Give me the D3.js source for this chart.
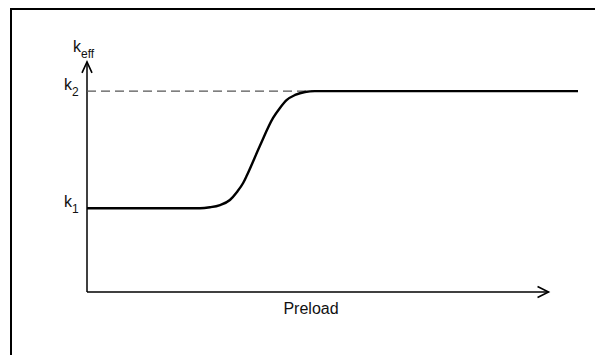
<!DOCTYPE html>
<html>
<head>
<meta charset="utf-8">
<script src="https://cdn.jsdelivr.net/npm/d3@7"></script>
<style>
  body { margin: 0; background: #fff; }
  svg { display: block; }
  text { font-family: "Liberation Sans", Arial, sans-serif; fill: #111; }
</style>
</head>
<body>
<div id="chart"></div>
<script>
// preload (arbitrary units) vs effective stiffness
const preload = [0, 23.0, 25.05, 27.1, 29.1, 30.55, 31.8, 32.6, 35.2, 37.9, 39.3, 40.7, 42.4, 44.4, 46.4, 60, 100];
const keff    = [1.0, 1.0, 1.012, 1.039, 1.099, 1.195, 1.302, 1.398, 1.744, 2.079, 2.198, 2.294, 2.354, 2.39, 2.4, 2.4, 2.4];

// reference levels and labels
const levelNames = ["1", "2"];
const levelValues = [1.0, 2.4];
const dashedEnd = 47.5;   // k2 reference line runs to where curve flattens
const xAxisEnd = 94;      // x arrow tip
const yAxisEnd = 2.75;    // y arrow tip
const xLabel = "Preload";
const yLabel = ["k", "eff"];

const W = 595, H = 355;
const svg = d3.select("#chart").append("svg").attr("width", W).attr("height", H);

let x = d3.scaleLinear().domain([0, 100]).range([87, 578]);
let y = d3.scaleLinear().domain([0, 2.7]).range([292, 66]);

// frame (only top and left edges show)
svg.append("path")
    .attr("d", `M11,${H}V9H${W}`)
    .attr("fill", "none")
    .attr("stroke", "#000")
    .attr("stroke-width", 2);

// axes
const g = svg.append("g");
g.append("line")
    .attr("x1", x(0)).attr("y1", y(0))
    .attr("x2", x(xAxisEnd)).attr("y2", y(0))
    .attr("stroke", "#000").attr("stroke-width", 1.5);
g.append("line")
    .attr("x1", x(0)).attr("y1", y(0))
    .attr("x2", x(0)).attr("y2", y(yAxisEnd))
    .attr("stroke", "#000").attr("stroke-width", 1.5);

// open arrow heads
const xt = x(xAxisEnd), yt = y(yAxisEnd);
g.append("path")
    .attr("d", `M${xt - 11},${y(0) - 5.5}L${xt},${y(0)}L${xt - 11},${y(0) + 5.5}`)
    .attr("fill", "none").attr("stroke", "#000").attr("stroke-width", 1.6);
g.append("path")
    .attr("d", `M${x(0) - 5},${yt + 11}L${x(0)},${yt}L${x(0) + 5},${yt + 11}`)
    .attr("fill", "none").attr("stroke", "#000").attr("stroke-width", 1.6);

// dashed k2 line
g.append("line")
    .attr("x1", x(0)).attr("y1", y(levelValues[1]))
    .attr("x2", x(dashedEnd)).attr("y2", y(levelValues[1]))
    .attr("stroke", "#555").attr("stroke-width", 1.4)
    .attr("stroke-dasharray", "9,5");

// curve
const line = d3.line()
    .x((d, i) => x(preload[i]))
    .y(d => y(d))
    .curve(d3.curveMonotoneX);
g.append("path")
    .datum(keff)
    .attr("d", line)
    .attr("fill", "none")
    .attr("stroke", "#000")
    .attr("stroke-width", 2.4);

// level labels
levelValues.forEach((v, i) => {
    const t = g.append("text")
        .attr("x", 64)
        .attr("y", y(v) - 1)
        .style("font-size", "16px");
    t.append("tspan").text("k");
    t.append("tspan").attr("dy", 6).style("font-size", "12px").text(levelNames[i]);
});

// y label
const yl = g.append("text")
    .attr("x", 73).attr("y", 52)
    .style("font-size", "16px");
yl.append("tspan").text(yLabel[0]);
yl.append("tspan").attr("dy", 6).style("font-size", "12px").text(yLabel[1]);

// x label
g.append("text")
    .attr("x", 311).attr("y", 314)
    .attr("text-anchor", "middle")
    .style("font-size", "16px")
    .text(xLabel);
</script>
</body>
</html>
